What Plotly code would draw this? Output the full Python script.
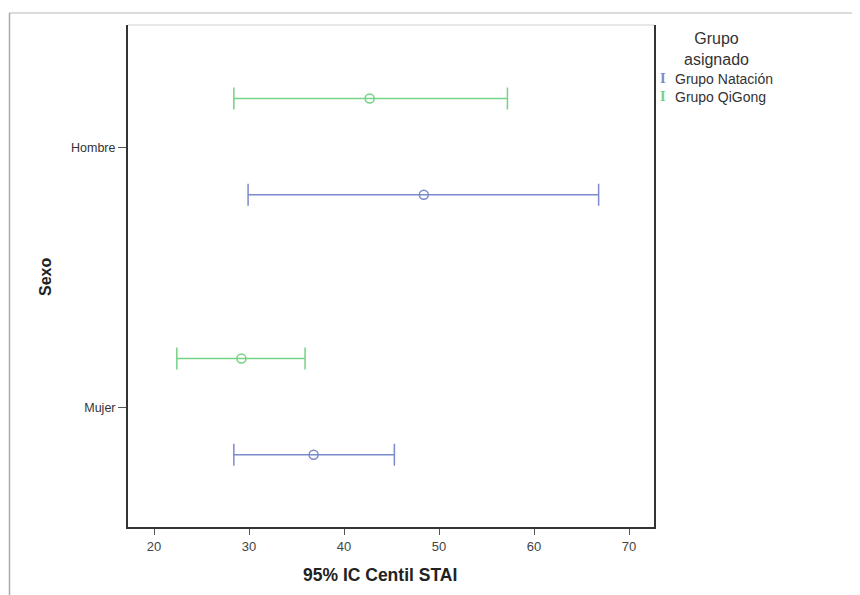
import plotly.graph_objects as go

# Data
sexo = ["Hombre", "Mujer"]
grupos = ["Grupo Natación", "Grupo QiGong"]
colores = ["#7b8acb", "#74d385"]
media = {"Grupo Natación": [48.4, 36.8], "Grupo QiGong": [42.7, 29.2]}
inferior = {"Grupo Natación": [29.9, 28.4], "Grupo QiGong": [28.4, 22.4]}
superior = {"Grupo Natación": [66.8, 45.3], "Grupo QiGong": [57.2, 35.9]}
x_ticks = [20, 30, 40, 50, 60, 70]
x_title = "95% IC Centil STAI"
y_title = "Sexo"
legend_title = "Grupo<br>asignado"

ypos = {"Hombre": 1.0, "Mujer": 0.0}
offset = {"Grupo Natación": -0.18, "Grupo QiGong": 0.19}

fig = go.Figure()
for g, c in zip(grupos, colores):
    ys = [ypos[s] + offset[g] for s in sexo]
    m = media[g]
    fig.add_trace(go.Scatter(
        x=m, y=ys, mode="markers", name=g, showlegend=False,
        marker=dict(symbol="circle-open", size=9, color=c, line=dict(width=1.5, color=c)),
        error_x=dict(type="data", symmetric=False,
                     array=[u - v for u, v in zip(superior[g], m)],
                     arrayminus=[v - l for v, l in zip(m, inferior[g])],
                     color=c, thickness=1.5, width=11),
    ))

FONT = "Liberation Sans, Arial, sans-serif"
OFF = 8  # page body margin
W, H = 860 - OFF, 595 - OFF
# plot area in page pixels: x 128..654, y 25..527
L = 128 - OFF
T = 25 - OFF
R = OFF + W - 654
B = OFF + H - 527
pw, ph = 654 - 128, 527 - 25


def px(x):
    return (x - 128) / pw


def py(y):
    return 1 - (y - 25) / ph


fig.update_layout(
    width=W, height=H,
    margin=dict(l=L, r=R, t=T, b=B),
    paper_bgcolor="white", plot_bgcolor="white",
    font=dict(family=FONT, color="#333"),
    showlegend=False,
    xaxis=dict(range=[17.26, 72.63], tickvals=x_ticks, showgrid=False, zeroline=False,
               showline=True, linecolor="#333", linewidth=2, ticks="outside",
               ticklen=6, tickcolor="#555", tickfont=dict(size=13, color="#444")),
    yaxis=dict(range=[-0.458, 1.473], tickvals=[ypos[s] for s in sexo], ticktext=sexo,
               showgrid=False, zeroline=False, showline=True, mirror=True,
               linecolor="#333", linewidth=2, ticks="outside", ticklen=8, tickcolor="#555",
               tickfont=dict(size=12.5, color="#333")),
)

# axis titles
fig.add_annotation(xref="paper", yref="paper", x=px(380), y=py(575), text=f"<b>{x_title}</b>",
                   showarrow=False, font=dict(size=17.5, color="#222"),
                   xanchor="center", yanchor="middle")
fig.add_annotation(xref="paper", yref="paper", x=px(45), y=py(277), text=f"<b>{y_title}</b>",
                   showarrow=False, font=dict(size=16, color="#222"), textangle=-90,
                   xanchor="center", yanchor="middle")

# top light frame line of plot area
fig.add_shape(type="line", xref="paper", yref="paper", x0=0, x1=1, y0=1, y1=1,
              line=dict(color="#d0d0d0", width=1))
# outer border lines
fig.add_shape(type="line", xref="paper", yref="paper", x0=px(9), x1=px(860), y0=py(13), y1=py(13),
              line=dict(color="#cfcfcf", width=1.5))
fig.add_shape(type="line", xref="paper", yref="paper", x0=px(9.5), x1=px(9.5), y0=py(13), y1=py(600),
              line=dict(color="#aaaaaa", width=1.5))

# legend (annotations)
fig.add_annotation(xref="paper", yref="paper", x=px(716), y=py(49), text=legend_title,
                   showarrow=False, font=dict(size=16, color="#333"), align="center",
                   xanchor="center", yanchor="middle")
for i, (g, c) in enumerate(zip(grupos, colores)):
    yy = 79 + i * 18
    fig.add_annotation(xref="paper", yref="paper", x=px(663), y=py(yy), text="<b>I</b>",
                       showarrow=False, font=dict(size=12, color=c, family="DejaVu Serif"),
                       xanchor="center", yanchor="middle")
    fig.add_annotation(xref="paper", yref="paper", x=px(673), y=py(yy), text=g,
                       showarrow=False, font=dict(size=14, color="#333"),
                       xanchor="left", yanchor="middle")

fig.write_html("out.html")
